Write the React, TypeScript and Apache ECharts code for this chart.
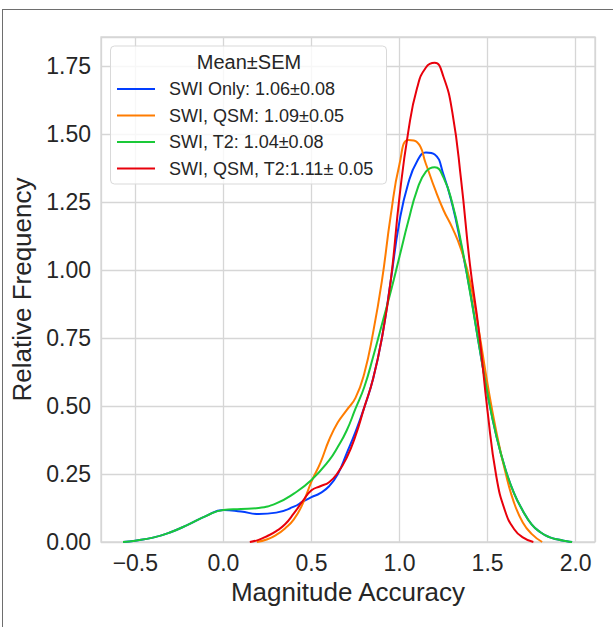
import React, { useEffect, useRef } from "react";
import * as echarts from "echarts";

const seriesNames = [
  "SWI Only: 1.06±0.08",
  "SWI, QSM: 1.09±0.05",
  "SWI, T2: 1.04±0.08",
  "SWI, QSM, T2:1.11± 0.05",
];
const seriesColors = ["#023eff", "#ff7c00", "#1ac938", "#e8000b"];

const blueX = [-0.57, -0.5, -0.4, -0.3, -0.2, -0.1, 0, 0.1, 0.2, 0.3, 0.4, 0.45, 0.5, 0.55, 0.6, 0.65, 0.7, 0.75, 0.8, 0.85, 0.9, 0.95, 1.0, 1.05, 1.1, 1.15, 1.2, 1.25, 1.3, 1.35, 1.4, 1.45, 1.5, 1.55, 1.6, 1.65, 1.7, 1.75, 1.8, 1.85, 1.9, 1.95, 1.98];
const blueY = [0, 0.005, 0.016, 0.036, 0.064, 0.095, 0.118, 0.112, 0.103, 0.108, 0.13, 0.148, 0.165, 0.18, 0.205, 0.25, 0.326, 0.405, 0.495, 0.6, 0.75, 0.96, 1.18, 1.32, 1.4, 1.432, 1.425, 1.35, 1.24, 1.09, 0.925, 0.73, 0.545, 0.39, 0.27, 0.18, 0.115, 0.065, 0.036, 0.018, 0.009, 0.003, 0];

const orangeX = [0.19, 0.25, 0.3, 0.35, 0.4, 0.45, 0.5, 0.55, 0.6, 0.65, 0.7, 0.75, 0.8, 0.85, 0.9, 0.95, 1.0, 1.05, 1.1, 1.15, 1.2, 1.25, 1.3, 1.35, 1.4, 1.45, 1.5, 1.55, 1.6, 1.65, 1.7, 1.75, 1.81];
const orangeY = [0, 0.01, 0.026, 0.05, 0.083, 0.14, 0.222, 0.29, 0.375, 0.44, 0.485, 0.53, 0.62, 0.77, 0.96, 1.2, 1.39, 1.478, 1.47, 1.39, 1.3, 1.22, 1.155, 1.075, 0.96, 0.78, 0.58, 0.405, 0.26, 0.145, 0.072, 0.03, 0];

const greenX = [-0.57, -0.5, -0.4, -0.3, -0.2, -0.1, 0, 0.1, 0.2, 0.3, 0.4, 0.5, 0.6, 0.65, 0.7, 0.75, 0.8, 0.85, 0.9, 0.95, 1.0, 1.05, 1.1, 1.15, 1.2, 1.25, 1.3, 1.35, 1.4, 1.45, 1.5, 1.55, 1.6, 1.65, 1.7, 1.75, 1.8, 1.85, 1.9, 1.95, 1.98];
const greenY = [0, 0.005, 0.016, 0.036, 0.064, 0.095, 0.118, 0.121, 0.125, 0.142, 0.178, 0.228, 0.3, 0.35, 0.41, 0.49, 0.57, 0.68, 0.8, 0.92, 1.05, 1.18, 1.295, 1.362, 1.378, 1.34, 1.245, 1.1, 0.92, 0.73, 0.545, 0.39, 0.27, 0.18, 0.115, 0.065, 0.036, 0.018, 0.009, 0.003, 0];

const redX = [0.15, 0.2, 0.25, 0.3, 0.35, 0.4, 0.45, 0.5, 0.55, 0.6, 0.65, 0.7, 0.75, 0.8, 0.85, 0.9, 0.95, 1.0, 1.05, 1.1, 1.15, 1.2, 1.25, 1.3, 1.35, 1.4, 1.45, 1.5, 1.55, 1.6, 1.65, 1.7, 1.76];
const redY = [0, 0.008, 0.022, 0.04, 0.065, 0.105, 0.15, 0.19, 0.205, 0.22, 0.255, 0.31, 0.39, 0.495, 0.6, 0.75, 0.96, 1.27, 1.51, 1.67, 1.745, 1.762, 1.71, 1.58, 1.33, 1.02, 0.78, 0.48, 0.24, 0.113, 0.048, 0.017, 0];

const xLimits = [-0.695, 2.11];
const yLimits = [0, 1.857];
const yInterval = 0.25;
const legendTitle = "Mean±SEM";
const xAxisTitle = "Magnitude Accuracy";
const yAxisTitle = "Relative Frequency";

const FONT = '"Liberation Sans", Arial, Helvetica, sans-serif';
const TEXT = "#262626";
const GRID = "#d6d6d6";

const zip = (xs: number[], ys: number[]) => xs.map((x, i) => [x, ys[i]]);

export default function App() {
  const ref = useRef<HTMLDivElement>(null);
  useEffect(() => {
    if (!ref.current) return;
    const chart = echarts.init(ref.current, null, { renderer: "svg" });
    const curves = [
      zip(blueX, blueY),
      zip(orangeX, orangeY),
      zip(greenX, greenY),
      zip(redX, redY),
    ];
    chart.setOption({
      animation: false,
      backgroundColor: "#ffffff",
      textStyle: { fontFamily: FONT },
      grid: {
        left: 101,
        top: 37,
        width: 494,
        height: 505,
        show: true,
        borderColor: GRID,
        borderWidth: 1.3,
        containLabel: false,
      },
      xAxis: {
        type: "value",
        min: xLimits[0],
        max: xLimits[1],
        splitNumber: 5,
        name: xAxisTitle,
        nameLocation: "middle",
        nameGap: 35,
        nameTextStyle: { fontSize: 26, color: TEXT, fontFamily: FONT },
        axisLine: { show: false },
        axisTick: { show: false },
        splitLine: { show: true, lineStyle: { color: GRID, width: 1.3 } },
        axisLabel: {
          showMinLabel: false,
          showMaxLabel: false,
          fontSize: 23,
          color: TEXT,
          fontFamily: FONT,
          margin: 9,
          formatter: (v: number) => v.toFixed(1).replace("-", "\u2212"),
        },
      },
      yAxis: {
        type: "value",
        min: yLimits[0],
        max: yLimits[1],
        interval: yInterval,
        name: yAxisTitle,
        nameLocation: "middle",
        nameGap: 61,
        nameTextStyle: { fontSize: 26, color: TEXT, fontFamily: FONT },
        axisLine: { show: false },
        axisTick: { show: false },
        splitLine: { show: true, lineStyle: { color: GRID, width: 1.3 } },
        axisLabel: {
          showMaxLabel: false,
          fontSize: 23,
          color: TEXT,
          fontFamily: FONT,
          margin: 10,
          formatter: (v: number) => v.toFixed(2),
        },
      },
      legend: {
        orient: "vertical",
        left: 117,
        top: 79,
        padding: 0,
        z: 20,
        icon: "rect",
        itemWidth: 38,
        itemHeight: 2.2,
        itemGap: 6.5,
        data: seriesNames,
        textStyle: {
          fontSize: 18,
          lineHeight: 20,
          color: TEXT,
          fontFamily: FONT,
          padding: [0, 0, 0, 9],
        },
      },
      graphic: [
        {
          type: "line",
          silent: true,
          shape: { x1: 2, y1: 9.5, x2: 613, y2: 9.5 },
          style: { stroke: "#6e6e6e", lineWidth: 1 },
        },
        {
          type: "line",
          silent: true,
          shape: { x1: 2.5, y1: 9.5, x2: 2.5, y2: 627 },
          style: { stroke: "#6e6e6e", lineWidth: 1 },
        },
        {
          type: "rect",
          silent: true,
          z: 10,
          shape: { x: 110.5, y: 46, width: 276, height: 138, r: 4 },
          style: { fill: "rgba(255,255,255,0.8)", stroke: "#d9d9d9", lineWidth: 1 },
        },
        {
          type: "text",
          silent: true,
          z: 21,
          x: 249,
          y: 62,
          style: {
            text: legendTitle,
            fontSize: 20,
            fontFamily: FONT,
            fill: TEXT,
            align: "center",
            verticalAlign: "middle",
          },
        },
      ],
      series: curves.map((d, i) => ({
        name: seriesNames[i],
        type: "line",
        data: d,
        smooth: 0.5,
        showSymbol: false,
        symbol: "none",
        lineStyle: { color: seriesColors[i], width: 2 },
        itemStyle: { color: seriesColors[i] },
        z: 2 + i,
      })),
    });
    return () => chart.dispose();
  }, []);
  return (
    <div
      ref={ref}
      style={{ position: "absolute", left: 0, top: 0, width: 613, height: 627 }}
    />
  );
}
